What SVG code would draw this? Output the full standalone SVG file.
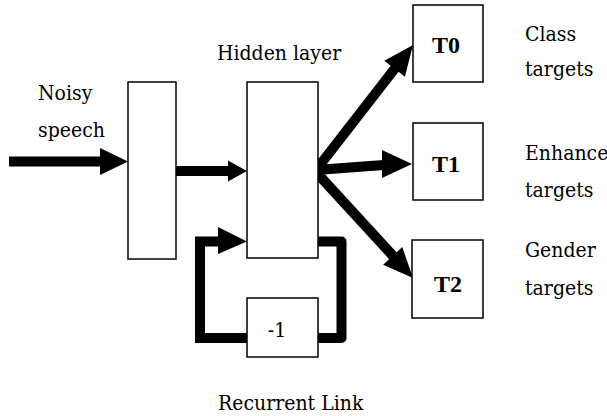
<svg xmlns="http://www.w3.org/2000/svg" width="607" height="416" viewBox="0 0 607 416">
<style>
.box{fill:#fff;stroke:#000;stroke-width:1.5}
.t{font-family:"DejaVu Serif Condensed","DejaVu Serif",serif;font-size:21px;fill:#000}
.b{font-family:"Liberation Serif",serif;font-size:24px;font-weight:bold;fill:#000}
.c{fill:none;stroke:#000;stroke-width:10}
.h{fill:#000}
</style>
<rect width="607" height="416" fill="#fff"/>
<g id="connectors">
<line class="c" x1="9" y1="161.5" x2="102" y2="161.5"/>
<polygon class="h" points="128,161.5 100,148 100,175"/>
<line class="c" x1="176" y1="171" x2="230" y2="171"/>
<polygon class="h" points="247,171 228,160.5 228,181.5"/>
<line class="c" x1="316" y1="170" x2="396" y2="67"/>
<polygon class="h" points="413,45 404.9,76.7 384.3,60.7"/>
<line class="c" x1="316" y1="170" x2="384" y2="165"/>
<polygon class="h" points="412,164 382,150 382,178"/>
<line class="c" x1="316" y1="172" x2="394" y2="257"/>
<polygon class="h" points="413,278 383.1,264.7 402.3,247.1"/>
<polyline class="c" points="318,241.5 341.5,241.5 341.5,338 318,338" stroke-linejoin="round" stroke-linecap="round"/>
<polyline class="c" points="247,338 200,338 200,241.5 222,241.5" stroke-linecap="round"/>
<polygon class="h" points="247,241.5 218,227 218,254"/>
</g>
<g id="input"><rect class="box" x="128" y="82" width="48" height="177"/></g>
<g id="hidden"><rect class="box" x="247" y="82" width="71" height="176"/></g>
<g id="delay"><rect class="box" x="247" y="298" width="71" height="59"/><text class="t" x="277" y="337" text-anchor="middle">-1</text></g>
<g id="T0"><rect class="box" x="413" y="5" width="70" height="77"/><text class="b" x="446" y="53" text-anchor="middle">T0</text></g>
<g id="T1"><rect class="box" x="413" y="123" width="70" height="77"/><text class="b" x="446" y="172" text-anchor="middle">T1</text></g>
<g id="T2"><rect class="box" x="412" y="240" width="71" height="78"/><text class="b" x="448" y="292" text-anchor="middle">T2</text></g>
<g id="labels">
<text class="t" x="38" y="100">Noisy</text>
<text class="t" x="38" y="137">speech</text>
<text class="t" x="217" y="60">Hidden layer</text>
<text class="t" x="525" y="41">Class</text>
<text class="t" x="525" y="76">targets</text>
<text class="t" x="525" y="160">Enhance</text>
<text class="t" x="525" y="197">targets</text>
<text class="t" x="525" y="257">Gender</text>
<text class="t" x="525" y="295">targets</text>
<text class="t" x="218" y="410">Recurrent Link</text>
</g>
</svg>
